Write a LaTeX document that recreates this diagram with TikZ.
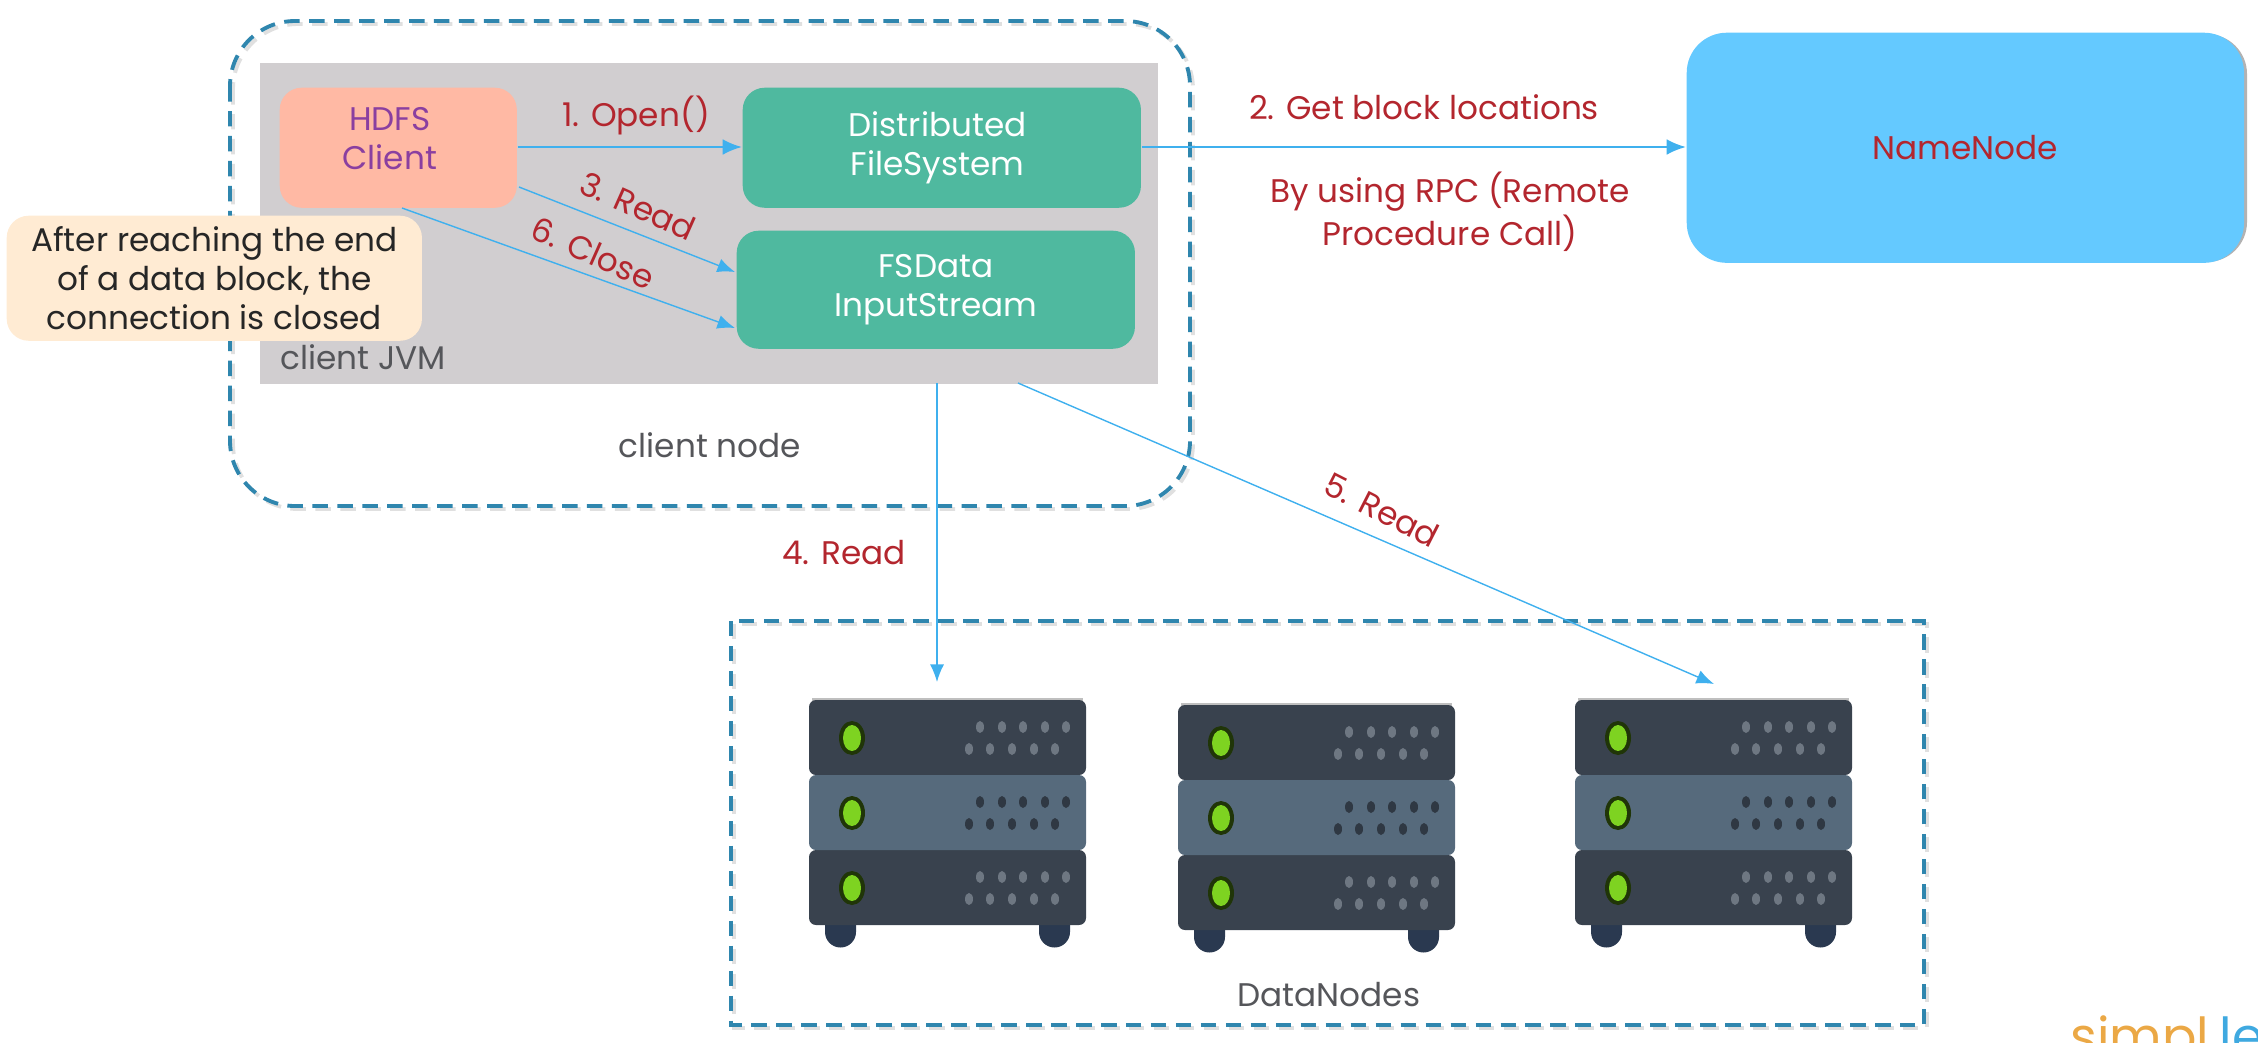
\documentclass[tikz,border=0pt]{standalone}
\usepackage{fontspec}
\setmainfont{Poppins}
\usetikzlibrary{arrows.meta}
\definecolor{dashblue}{HTML}{2F86AE}
\definecolor{linkblue}{HTML}{3FB0EE}
\definecolor{redtxt}{HTML}{B3262E}
\definecolor{graytxt}{HTML}{55565A}
\definecolor{jvm}{HTML}{D1CED0}
\definecolor{peach}{HTML}{FFB9A4}
\definecolor{teal1}{HTML}{4FB99F}
\definecolor{cream}{HTML}{FFEBD3}
\definecolor{sky}{HTML}{64C9FF}
\definecolor{srvdark}{HTML}{39424E}
\definecolor{srvmid}{HTML}{566A7C}
\definecolor{srvfoot}{HTML}{2A3950}
\definecolor{led}{HTML}{7ED321}
\definecolor{purp}{HTML}{8A3FA0}
\definecolor{dotlight}{HTML}{6E7782}
\definecolor{dotdark}{HTML}{2F3843}
\definecolor{logoorange}{HTML}{EBA845}
\definecolor{logoblue}{HTML}{3FA9E0}
\newcommand{\txt}{\fontsize{9.3pt}{11pt}\selectfont}
\tikzset{
  x=.01cm,y=-.01cm,
  box/.style={draw=none,rounded corners=.22cm,inner sep=0pt,align=center,anchor=north west,font=\txt},
  dashline/.style={draw=dashblue,line width=1.1pt,dash pattern=on 4.4pt off 2.7pt},
  dashshadow/.style={draw=black!12,line width=1.1pt,dash pattern=on 4.4pt off 2.7pt},
  link/.style={draw=linkblue,line width=.4pt,-{Latex[length=5pt,width=4pt]}},
  linkthick/.style={draw=linkblue,line width=.7pt,-{Latex[length=5.5pt,width=4.5pt]}},
  lab/.style={text=redtxt,font=\txt,align=center,inner sep=0pt},
  captxt/.style={text=graytxt,font=\txt,align=center,inner sep=0pt},
}
\newcommand{\rackrow}[4]{% x, y, color, dot color
  \fill[#3,rounded corners=.07cm] (#1,#2) rectangle ++(277,75);
  \fill[black!75!led] (#1+43,#2+38) ellipse [x radius=13,y radius=17];
  \fill[led] (#1+43,#2+38) ellipse [x radius=9,y radius=13];
  \foreach \d in {171,193,214,236,257} \fill[#4] (#1+\d,#2+27) ellipse [x radius=4,y radius=6];
  \foreach \d in {160,181,203,225,246} \fill[#4] (#1+\d,#2+49) ellipse [x radius=4,y radius=6];
}
\newcommand{\rack}[2]{%
  \fill[srvfoot] (#1+31-15,#2+215) -- ++(31,0) -- ++(0,17) arc[start angle=0,end angle=180,x radius=15.5,y radius=15.5] -- cycle;
  \fill[srvfoot] (#1+245-15,#2+215) -- ++(31,0) -- ++(0,17) arc[start angle=0,end angle=180,x radius=15.5,y radius=15.5] -- cycle;
  \fill[black!25] (#1+3,#2-2) rectangle ++(271,6);
  \rackrow{#1}{#2}{srvdark}{dotlight}
  \rackrow{#1}{#2+150}{srvdark}{dotlight}
  \rackrow{#1}{#2+75}{srvmid}{dotdark}
}
\begin{document}
\begin{tikzpicture}
\useasboundingbox (0,0) rectangle (2258,1042);
% client node and JVM
\draw[dashshadow,rounded corners=.65cm] (233,24) rectangle (1193,509);
\draw[dashline,rounded corners=.65cm] (230,21) rectangle (1190,506);
\node[box,fill=jvm,rounded corners=0pt,minimum width=8.98cm,minimum height=3.21cm] (jvmbox) at (259,62) {};
% DataNodes frame
\draw[dashshadow] (734,624) rectangle (1927,1028);
\draw[dashline] (731,621) rectangle (1924,1025);
% boxes
\node[box,fill=peach,text=purp,minimum width=2.37cm,minimum height=1.2cm] (client) at (279,87) {\hspace*{-4.8pt}\raisebox{1.6pt}[\height][\depth]{\begin{tabular}{@{}c@{}}HDFS\\Client\end{tabular}}};
\node[box,fill=teal1,text=white,minimum width=3.98cm,minimum height=1.2cm] (dfs) at (742,87) {\hspace*{-2.4pt}Distributed\\\hspace*{-2.4pt}FileSystem};
\node[box,fill=teal1,text=white,minimum width=3.98cm,minimum height=1.18cm] (fsd) at (736,230) {FSData\\InputStream};
\fill[black!30,rounded corners=.4cm] (1691,34) rectangle (2247,262);
\node[box,fill=sky,text=redtxt,minimum width=5.57cm,minimum height=2.3cm,rounded corners=.4cm] (nn) at (1686,32) {NameNode};
% free ends
\coordinate (c3s) at (519,187);
\coordinate (c3e) at (735,272);
\coordinate (c6s) at (402,208);
\coordinate (c6e) at (735,328);
\coordinate (c4s) at (937,383);
\coordinate (c4e) at (937,682);
\coordinate (c5s) at (1018,383);
\coordinate (c5e) at (1714,684);
% connectors
\draw[linkthick] (client.east |- 0,147) -- (dfs.west |- 0,147);
\draw[linkthick] (dfs.east |- 0,147) -- (nn.west |- 0,147);
\draw[link] (c3s) -- (c3e);
\draw[link] (c6s) -- (c6e);
\draw[link] (c4s) -- (c4e);
\draw[link] (c5s) -- (c5e);
% note over everything
\node[box,fill=cream,text=black!85,minimum width=4.15cm,minimum height=1.25cm] (note) at (6,215) {After reaching the end\\of a data block, the\\connection is closed};
% labels
\node[lab] (l1) at (636,115) {1. Open()};
\node[lab] (l2) at (1424,107) {2. Get block locations};
\node[lab] (lrpc) at (1450,212) {By using RPC (Remote\\Procedure Call)};
\node[lab,rotate=-24] (l3) at (638,206) {3. Read};
\node[lab,rotate=-24] (l6) at (593,253) {6. Close};
\node[lab] (l4) at (844,553) {4. Read};
\node[lab,rotate=-27] (l5) at (1382,510) {5. Read};
\node[captxt] (jvmcap) at (363,357) {client JVM};
\node[captxt] (nodecap) at (710,445) {client node};
\node[captxt] (dncap) at (1329,995) {DataNodes};
% servers
\rack{809}{700}
\rack{1178}{705}
\rack{1575}{700}
% logo, cut by the page edge
\begin{scope}
\clip (0,0) rectangle (2258,1042);
\node[inner sep=0pt,anchor=base west,text=logoorange,font=\fontsize{14.5pt}{18pt}\selectfont] (logoa) at (2070,1054) {simpl};
\node[inner sep=0pt,anchor=base west,text=logoblue,font=\fontsize{14.5pt}{18pt}\selectfont] (logob) at (2219,1054) {le};
\end{scope}
\end{tikzpicture}
\end{document}
